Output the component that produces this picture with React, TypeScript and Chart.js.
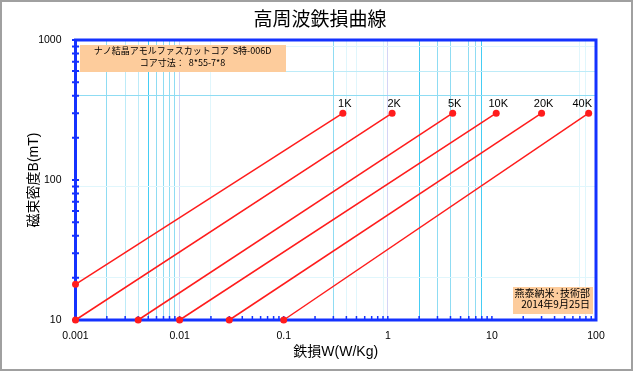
import React, { useEffect, useRef } from 'react';
import { Chart, registerables } from 'chart.js';

Chart.register(...registerables);

// ---- data ----
const seriesNames = ['1K', '2K', '5K', '10K', '20K', '40K'];
const startLoss = [0.001, 0.001, 0.004, 0.01, 0.03, 0.1];
const startFlux = [18, 10, 10, 10, 10, 10];
const endLoss = [0.37, 1.1, 4.2, 11, 30, 85];
const endFlux = [300, 300, 300, 300, 300, 300];

const xMajorTicks = [0.001, 0.01, 0.1, 1, 10, 100];
const xTickLabels = ['0.001', '0.01', '0.1', '1', '10', '100'];
const yMajorTicks = [10, 100, 1000];
const yTickLabels = ['10', '100', '1000'];
const minorSteps = [2, 3, 4, 5, 6, 7, 8, 9];

const titleText = '高周波鉄損曲線';
const xTitle = '鉄損W(W/Kg)';
const yTitle = '磁束密度B(mT)';
const noteTopLines = ['ナノ結晶アモルファスカットコア  S特-006D', 'コア寸法：  8*55-7*8'];
const noteBottomLines = ['燕泰納米·技術部', '2014年9月25日'];

// ---- styles ----
const GRID: Record<string, string> = {
  bright: '#45cdf4',
  medium: '#8fdcf3',
  light: '#bdebf8',
  faint: '#e0f6fc',
  lav: '#d4d4f6',
};
const xGridStyle: [number, string][] = [
  [0.002, 'medium'], [0.003, 'light'], [0.004, 'light'], [0.005, 'bright'],
  [0.006, 'medium'], [0.007, 'medium'], [0.008, 'medium'], [0.009, 'medium'],
  [0.01, 'lav'], [0.02, 'faint'], [0.3, 'medium'], [0.4, 'faint'], [0.5, 'faint'],
  [0.9, 'faint'], [1, 'lav'], [2, 'bright'], [3, 'medium'], [4, 'medium'],
  [6, 'medium'], [7, 'medium'], [8, 'bright'], [70, 'faint'], [80, 'faint'],
];
const yGridStyle: [number, string][] = [
  [20, 'faint'], [90, 'faint'], [400, 'medium'], [600, 'light'], [900, 'faint'],
];

const BLUE = '#1432ff';
const RED = '#ff1c1c';
const PEACH = '#fdcc9c';
const JP = '"Noto Sans CJK JP", "Liberation Sans", sans-serif';
const LAT = '"Liberation Sans", "Noto Sans CJK JP", sans-serif';

const near = (a: number, b: number) => Math.abs(Math.log10(a) - Math.log10(b)) < 1e-6;

function withMinors(majors: number[]) {
  const out: number[] = [];
  majors.forEach((m, i) => {
    out.push(m);
    if (i < majors.length - 1) minorSteps.forEach((s) => out.push(m * s));
  });
  return out;
}
const xTickValues = withMinors(xMajorTicks);
const yTickValues = withMinors(yMajorTicks);

function gridColor(v: number | undefined, table: [number, string][]) {
  if (v == null) return 'rgba(0,0,0,0)';
  const hit = table.find(([k]) => near(k, v));
  return hit ? GRID[hit[1]] : 'rgba(0,0,0,0)';
}
function labelFor(v: number, majors: number[], labels: string[]) {
  const i = majors.findIndex((m) => near(m, v));
  return i >= 0 ? labels[i] : '';
}

const decorPlugin = {
  id: 'decor',
  beforeDraw(chart: any) {
    const { ctx, width, height } = chart;
    ctx.save();
    ctx.fillStyle = '#fff';
    ctx.fillRect(0, 0, width, height);
    ctx.strokeStyle = '#a0a0a0';
    ctx.lineWidth = 2;
    ctx.strokeRect(1, 1, width - 2, height - 2);
    ctx.fillStyle = '#000';
    ctx.font = '19px ' + JP;
    ctx.textAlign = 'center';
    ctx.textBaseline = 'middle';
    ctx.fillText(titleText, 320, 18.5);
    ctx.restore();
  },
  beforeDatasetsDraw(chart: any) {
    const { ctx, chartArea: a, scales } = chart;
    ctx.save();
    // notes
    ctx.fillStyle = PEACH;
    ctx.fillRect(a.left + 4.5, 45, 206, 27);
    ctx.fillRect(a.right - 83, 287, 80, 27);
    ctx.fillStyle = '#000';
    ctx.textBaseline = 'middle';
    ctx.textAlign = 'center';
    ctx.font = '9px ' + JP;
    ctx.fillText(noteTopLines[0], a.left + 107, 50.5);
    ctx.fillText(noteTopLines[1], a.left + 107, 62.5);
    ctx.textAlign = 'right';
    ctx.font = '10px ' + JP;
    ctx.fillText(noteBottomLines[0], a.right - 6, 293.5);
    ctx.fillText(noteBottomLines[1], a.right - 6, 304.5);
    // border
    ctx.strokeStyle = BLUE;
    ctx.lineWidth = 3;
    ctx.strokeRect(a.left, a.top, a.right - a.left, a.bottom - a.top);
    // y ticks crossing axis
    ctx.lineWidth = 2;
    ctx.beginPath();
    yTickValues.forEach((v) => {
      const y = scales.y.getPixelForValue(v);
      ctx.moveTo(a.left - 3.5, y);
      ctx.lineTo(a.left + 3.5, y);
    });
    ctx.stroke();
    // x ticks inward
    ctx.lineWidth = 1.5;
    ctx.beginPath();
    xTickValues.forEach((v) => {
      const x = scales.x.getPixelForValue(v);
      ctx.moveTo(x, a.bottom);
      ctx.lineTo(x, a.bottom - 4);
    });
    ctx.stroke();
    ctx.restore();
  },
  afterDatasetsDraw(chart: any) {
    const { ctx, chartArea: a } = chart;
    ctx.save();
    ctx.fillStyle = '#000';
    ctx.font = '11px ' + LAT;
    ctx.textAlign = 'center';
    ctx.textBaseline = 'middle';
    seriesNames.forEach((name, i) => {
      const meta = chart.getDatasetMeta(i);
      const pt = meta.data[meta.data.length - 1];
      const w = ctx.measureText(name).width;
      const cx = Math.min(pt.x + 2, a.right - 4 - w / 2);
      ctx.fillText(name, cx, pt.y - 9.5);
    });
    ctx.restore();
  },
};

export default function App() {
  const ref = useRef<HTMLCanvasElement>(null);
  useEffect(() => {
    document.body.style.margin = '0';
    const canvas = ref.current!;
    const chart = new Chart(canvas, {
      type: 'scatter',
      data: {
        datasets: seriesNames.map((name, i) => ({
          label: name,
          data: [
            { x: startLoss[i], y: startFlux[i] },
            { x: endLoss[i], y: endFlux[i] },
          ],
          showLine: true,
          borderColor: RED,
          backgroundColor: RED,
          borderWidth: 1.5,
          pointRadius: 3.5,
          pointHoverRadius: 3.5,
          pointBorderWidth: 0,
          clip: false as any,
        })),
      },
      options: {
        responsive: false,
        animation: false,
        devicePixelRatio: 1,
        layout: { padding: { left: 0, right: 37, top: 40, bottom: 0 } },
        plugins: { legend: { display: false }, tooltip: { enabled: false }, title: { display: false } },
        events: [],
        scales: {
          x: {
            type: 'logarithmic',
            min: 0.001,
            max: 100,
            afterBuildTicks: (s: any) => { s.ticks = xTickValues.map((v) => ({ value: v })); },
            afterFit: (s: any) => { s.height = 51; },
            grid: { color: (c: any) => gridColor(c.tick?.value, xGridStyle), lineWidth: 1, drawTicks: false },
            border: { display: false },
            ticks: {
              autoSkip: false, maxRotation: 0, minRotation: 0, padding: 10, color: '#000',
              font: { family: LAT, size: 10.5 },
              callback: (v: any) => labelFor(Number(v), xMajorTicks, xTickLabels),
            },
            title: { display: true, text: xTitle, color: '#000', font: { family: LAT, size: 14 }, padding: { top: 0, bottom: 10 } },
          },
          y: {
            type: 'logarithmic',
            min: 10,
            max: 1000,
            afterBuildTicks: (s: any) => { s.ticks = yTickValues.map((v) => ({ value: v })); },
            afterFit: (s: any) => { s.width = 75.5; },
            grid: { color: (c: any) => gridColor(c.tick?.value, yGridStyle), lineWidth: 1, drawTicks: false },
            border: { display: false },
            ticks: {
              autoSkip: false, padding: 14, color: '#000',
              font: { family: LAT, size: 10.5 },
              callback: (v: any) => labelFor(Number(v), yMajorTicks, yTickLabels),
            },
            title: { display: true, text: yTitle, color: '#000', font: { family: LAT, size: 14 }, padding: { top: 26, bottom: 0 } },
          },
        },
      } as any,
      plugins: [decorPlugin],
    });
    return () => chart.destroy();
  }, []);
  return <canvas ref={ref} width={633} height={371} style={{ display: 'block', width: 633, height: 371 }} />;
}
